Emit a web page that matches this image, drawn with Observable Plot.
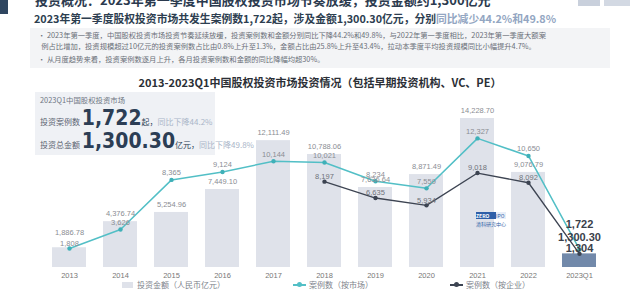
<!DOCTYPE html>
<html><head><meta charset="utf-8">
<script src="https://cdn.jsdelivr.net/npm/d3@7"></script>
<script src="https://cdn.jsdelivr.net/npm/@observablehq/plot@0.6"></script>
<style>
html,body{margin:0;padding:0;background:#fff;width:640px;height:300px;overflow:hidden;font-family:"Noto Sans CJK SC","Noto Sans",sans-serif;}
.abs{position:absolute;white-space:nowrap;}
#chart{position:absolute;left:0;top:90px;}
.num{font-family:"Liberation Sans Narrow","DejaVu Sans Condensed","Noto Sans CJK SC",sans-serif;font-weight:bold;}
</style></head>
<body>
<div class="abs" style="left:0;top:0;width:8px;height:14px;background:#2f4660;"></div>
<div class="abs" style="left:35px;top:-10px;font-size:13px;font-weight:bold;color:#2b3a4e;">投资概况：2023年第一季度中国股权投资市场节奏放缓，投资金额约1,300亿元</div>
<div class="abs" style="left:578px;top:0px;width:22px;height:6px;background:#c9d0dc;"></div>
<div class="abs" style="left:604px;top:0px;width:26px;height:6px;background:#d3d9e3;"></div>
<div class="abs" style="left:34px;top:10px;font-size:10.8px;font-weight:bold;color:#2d3e50;">2023年第一季度股权投资市场共发生案例数1,722起，涉及金额1,300.30亿元，分别<span style="color:#93a6c2;font-weight:bold;">同比减少44.2%和49.8%</span></div>
<div class="abs" style="left:30px;top:28px;width:580px;height:40px;background:#f3f4f6;"></div>
<div class="abs" style="left:38px;top:30px;font-size:7.3px;color:#6a6f78;line-height:10.5px;">• 2023年第一季度，中国股权投资市场投资节奏延续放缓，投资案例数和金额分别同比下降44.2%和49.8%，与2022年第一季度相比，2023年第一季度大额案<br>&nbsp;&nbsp;例占比增加，投资规模超过10亿元的投资案例数占比由0.8%上升至1.3%，金额占比由25.8%上升至43.4%，拉动本季度平均投资规模同比小幅提升4.7%。</div>
<div class="abs" style="left:38px;top:54px;font-size:7.3px;color:#6a6f78;">• 从月度趋势来看，投资案例数逐月上升，各月投资案例数和金额的同比降幅均超30%。</div>
<div class="abs" style="left:0;width:640px;top:74px;text-align:center;font-size:11px;font-weight:bold;color:#2b2f36;">2013-2023Q1中国股权投资市场投资情况（包括早期投资机构、VC、PE）</div>
<div id="chart"></div>
<div class="abs" style="left:35px;top:92px;width:180px;height:63px;background:#eef0f4;opacity:0.92;"></div>
<div class="abs" style="left:40px;top:94px;font-size:7.4px;color:#707784;">2023Q1中国股权投资市场</div>
<div class="abs" style="left:40px;top:107px;font-size:8px;color:#5a6270;line-height:22px;">投资案例数 <span class="num" style="font-size:21px;color:#2c3e55;">1,722</span><span style="color:#2c3e55;">起，</span><span style="color:#a9b5c8;">同比下降44.2%</span></div>
<div class="abs" style="left:40px;top:130px;font-size:8px;color:#5a6270;line-height:22px;">投资总金额 <span class="num" style="font-size:21px;color:#2c3e55;">1,300.30</span><span style="color:#2c3e55;">亿元，</span><span style="color:#a9b5c8;">同比下降49.8%</span></div>
<div class="abs" style="left:476px;top:212px;width:20px;height:7px;background:#2f5fa8;color:#fff;font-size:5px;line-height:7px;font-weight:bold;">ZERO</div>
<div class="abs" style="left:496px;top:212px;width:10px;height:7px;background:#e8eef8;color:#2f5fa8;font-size:5px;line-height:7px;">IPO</div>
<div class="abs" style="left:476px;top:220px;font-size:5px;color:#2f5fa8;">清科研究中心</div>
<div class="abs" style="left:122px;top:282px;width:11px;height:6px;background:#dfe2ea;"></div>
<div class="abs" style="left:137px;top:279px;font-size:8px;color:#7d828b;">投资金额（人民币亿元）</div>
<div class="abs" style="left:293px;top:284px;width:13px;height:1.5px;background:#52bfc6;"></div>
<div class="abs" style="left:297px;top:282px;width:5px;height:5px;border-radius:50%;background:#52bfc6;"></div>
<div class="abs" style="left:309px;top:279px;font-size:8px;color:#7d828b;">案例数（按市场）</div>
<div class="abs" style="left:450px;top:284px;width:13px;height:1.5px;background:#3d4452;"></div>
<div class="abs" style="left:454px;top:282px;width:5px;height:5px;border-radius:50%;background:#3d4452;"></div>
<div class="abs" style="left:466px;top:279px;font-size:8px;color:#7d828b;">案例数（按企业）</div>
<script>
const years = ["2013","2014","2015","2016","2017","2018","2019","2020","2021","2022","2023Q1"];
const amount = [1886.78, 4376.74, 5254.96, 7449.10, 12111.49, 10788.06, 7636.64, 8871.49, 14228.70, 9076.79, 1300.30];
const casesMarket = [1808, 3626, 8365, 9124, 10144, 10021, 8234, 7559, 12327, 10650, 1722];
const entYears = ["2018","2019","2020","2021","2022","2023Q1"];
const casesEnterprise = [8197, 6635, 5934, 9018, 8092, 1304];

const last = "2023Q1";
const crowded = ["2013"];
const bars = years.map((y, i) => ({year: y, value: amount[i]}));
const market = years.map((y, i) => ({year: y, value: casesMarket[i]}));
const ent = entYears.map((y, i) => ({year: y, value: casesEnterprise[i]}));
const f2 = d3.format(",.2f"), f0 = d3.format(",");
const plain = d => d.year !== last && !crowded.includes(d.year);
const tight = d => crowded.includes(d.year);
const notLast = d => d.year !== last;
const isLast = d => d.year === last;
const lbl = {fill: "#8a8d93", fontSize: 7.5};

const plot = Plot.plot({
  width: 640, height: 195,
  marginLeft: 35, marginRight: 26, marginTop: 0, marginBottom: 18,
  style: {background: "transparent", fontFamily: "'Liberation Sans','DejaVu Sans',sans-serif"},
  x: {domain: years, padding: 0.33, label: null},
  y: {domain: [0, 16900], axis: null},
  marks: [
    Plot.barY(bars, {x: "year", y: "value", fill: d => d.year === last ? "#7289aa" : "#dfe2ea"}),
    Plot.axisX({tickSize: 0, tickPadding: 5, fontSize: 7.5, color: "#777", label: null}),
    Plot.line(market, {x: "year", y: "value", stroke: "#52bfc6", strokeWidth: 1.5}),
    Plot.dot(market, {x: "year", y: "value", fill: "#3fb0b8", r: 2.2}),
    Plot.line(ent, {x: "year", y: "value", stroke: "#3d4452", strokeWidth: 1.3}),
    Plot.dot(ent, {x: "year", y: "value", fill: "#3d4452", r: 2.2}),
    Plot.text(bars.filter(plain), {x: "year", y: "value", text: d => f2(d.value), dy: -8, ...lbl}),
    Plot.text(bars.filter(tight), {x: "year", y: "value", text: d => f2(d.value), dy: -15, ...lbl}),
    Plot.text(market.filter(plain), {x: "year", y: "value", text: d => f0(d.value), dy: -7, ...lbl}),
    Plot.text(market.filter(tight), {x: "year", y: "value", text: d => f0(d.value), dy: -5, ...lbl}),
    Plot.text(ent.filter(notLast), {x: "year", y: "value", text: d => f0(d.value), dy: -5, fill: "#6f737a", fontSize: 7.5}),
    Plot.text(market.filter(isLast), {x: "year", y: "value", text: d => f0(d.value), dy: -25, fill: "#3a404a", fontSize: 11, fontWeight: "bold"}),
    Plot.text(bars.filter(isLast), {x: "year", y: "value", text: d => f2(d.value), dy: -16, fill: "#3a404a", fontSize: 11, fontWeight: "bold"}),
    Plot.text(ent.filter(isLast), {x: "year", y: "value", text: d => f0(d.value), dy: -5, fill: "#3a404a", fontSize: 11, fontWeight: "bold"})
  ]
});
document.getElementById("chart").appendChild(plot);
</script>
</body></html>
